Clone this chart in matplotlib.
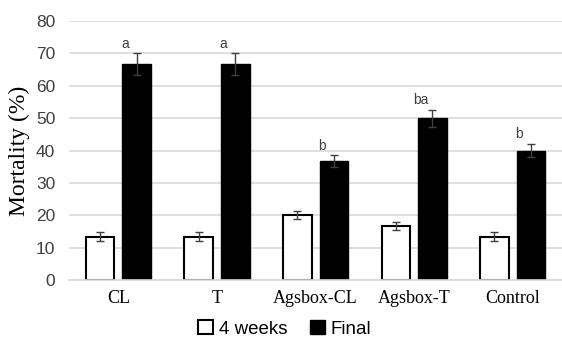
import matplotlib
matplotlib.use('Agg')
import matplotlib.pyplot as plt
import numpy as np

categories = ['CL', 'T', 'Agsbox-CL', 'Agsbox-T', 'Control']
weeks4 = [13.3, 13.3, 20.0, 16.7, 13.3]
weeks4_err = [1.4, 1.4, 1.3, 1.3, 1.4]
final = [66.7, 66.7, 36.7, 50.0, 40.0]
final_err = [3.3, 3.3, 1.8, 2.6, 2.1]
letters = ['a', 'a', 'b', 'ba', 'b']

x = np.arange(len(categories))
w = 0.29
off = 0.185

fig = plt.figure(figsize=(5.62, 3.39), dpi=100)
ax = fig.add_axes([0.123, 0.174, 0.877, 0.764])

ax.set_axisbelow(True)
ax.yaxis.grid(True, color='#d9d9d9', linewidth=1.2)

err_kw = dict(ecolor='#404040', capsize=3, elinewidth=1, capthick=1)
ax.bar(x - off, weeks4, w, yerr=weeks4_err, color='white', edgecolor='black',
       linewidth=1.5, label='4 weeks', error_kw=err_kw)
ax.bar(x + off, final, w, yerr=final_err, color='black', edgecolor='black',
       linewidth=1.0, label='Final', error_kw=err_kw)

# significance letters above the final bars
for xi, v, e, t in zip(x, final, final_err, letters):
    ax.text(xi + off - 0.12, v + e + 0.8, t, ha='center', va='bottom',
            fontsize=10, color='#404040', family='Liberation Sans')

ax.set_xlim(-0.5, 4.5)
ax.set_ylim(0, 80)
ax.set_yticks(range(0, 81, 10))
ax.set_xticks(x)
ax.set_xticklabels(categories, family='Liberation Serif', fontsize=13)
for lab in ax.get_yticklabels():
    lab.set_family('Liberation Sans')
    lab.set_fontsize(12.5)
    lab.set_color('#404040')
ax.tick_params(axis='both', length=0)
ax.tick_params(axis='x', pad=7)
ax.tick_params(axis='y', pad=10)

for s in ['top', 'right', 'left']:
    ax.spines[s].set_visible(False)
ax.spines['bottom'].set_color('#d9d9d9')
ax.spines['bottom'].set_linewidth(1.2)

ax.set_ylabel('Mortality (%)', family='Liberation Serif', fontsize=17, labelpad=4)

fig.legend(loc='center', bbox_to_anchor=(0.506, 0.03), ncol=2, frameon=False,
           prop={'family': 'Liberation Sans', 'size': 13.5}, handlelength=0.8,
           handleheight=0.8, handletextpad=0.3, columnspacing=1.2)

fig.savefig('out.png', dpi=100)
